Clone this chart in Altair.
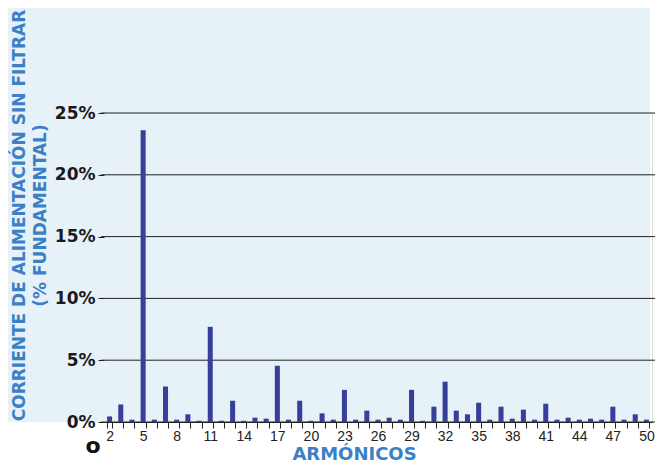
import altair as alt
import pandas as pd

harmonics = list(range(2, 51))
values = [0.45, 1.42, 0.19, 23.6, 0.19, 2.88, 0.19, 0.62, 0.10, 7.7,
          0.10, 1.72, 0.10, 0.35, 0.27, 4.55, 0.19, 1.72, 0.10, 0.70,
          0.19, 2.6, 0.19, 0.92, 0.19, 0.35, 0.19, 2.6, 0.10, 1.24,
          3.26, 0.92, 0.62, 1.56, 0.19, 1.24, 0.27, 1.0, 0.19, 1.48,
          0.19, 0.35, 0.19, 0.27, 0.19, 1.24, 0.19, 0.62, 0.19]
y_ticks = [0, 5, 10, 15, 20, 25]
y_title = ["CORRIENTE DE ALIMENTACIÓN SIN FILTRAR", "(% FUNDAMENTAL)"]
x_title = "ARMÓNICOS"

df = pd.DataFrame({"h": harmonics, "v": values})
grid_df = pd.DataFrame({"v": y_ticks})

W, H = 548, 309
BLUE = "#3b7fc6"
BAR = "#36409a"
BG = "#e6f1f8"

yscale = alt.Scale(domain=[0, 25], nice=False)
yaxis = alt.Axis(
    zindex=1,
    values=y_ticks, labelExpr="datum.value + '%'",
    labelFont="DejaVu Sans", labelFontWeight="bold",
    labelFontSize=17, labelColor="#1a1a1a", labelPadding=3,
    tickSize=6, tickColor="#222", domain=False, grid=False,
    title=y_title, titleFont="DejaVu Sans", titleFontWeight="bold",
    titleFontSize=17, titleColor=BLUE, titleLineHeight=21,
    titleX=-85, titleY=102, titleAngle=-90,
    titleAlign="center", titleBaseline="middle")

bg = alt.Chart(alt.Data(values=[{}])).mark_rect(color=BG).encode(
    x=alt.value(-104), x2=alt.value(546), y=alt.value(-109), y2=alt.value(H)
)

grid = alt.Chart(grid_df).mark_rule(color="#222", strokeWidth=1).encode(
    y=alt.Y("v:Q", scale=yscale, axis=yaxis),
    x=alt.value(-3), x2=alt.value(W + 3),
)

bars = alt.Chart(df).mark_bar(color=BAR).encode(
    x=alt.X("h:O",
            scale=alt.Scale(paddingInner=0.55, paddingOuter=0.275),
            axis=alt.Axis(
                zindex=1,
                title=x_title, titleFont="DejaVu Sans", titleFontWeight="bold",
                titleFontSize=18, titleColor=BLUE, titleX=250, titleY=37,
                titleBaseline="alphabetic", titleAlign="center",
                labelExpr="(datum.value - 2) % 3 == 0 ? datum.label : ''",
                labelAngle=0, labelFont="Liberation Sans", labelFontSize=14,
                labelColor="#222", labelPadding=1,
                tickBand="extent", tickSize=6, tickColor="#222",
                domainColor="#222", domainWidth=1.2, grid=False)),
    y=alt.Y("v:Q", scale=yscale, axis=yaxis),
)

zero = alt.Chart(alt.Data(values=[{"t": "o"}])).mark_text(
    font="DejaVu Sans", fontWeight="bold", fontSize=22, color="#111",
    align="center", baseline="middle"
).encode(text="t:N", x=alt.value(-11), y=alt.value(333))

chart = alt.layer(bg, grid, bars, zero).properties(
    width=W, height=H,
    autosize=alt.AutoSizeParams(type="none"),
    padding={"left": 96, "top": 105, "right": 4, "bottom": 40},
).configure_view(stroke=None).configure(background="white")

chart.save("out.html", embed_options={"renderer": "svg", "actions": False})
